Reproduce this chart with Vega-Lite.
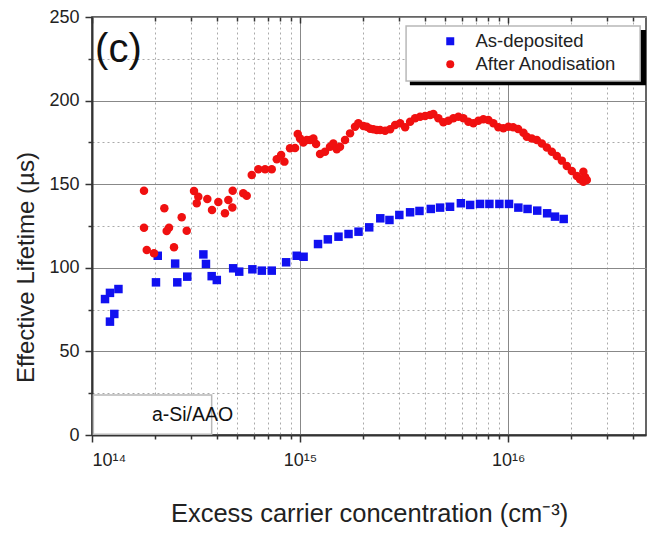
{
  "$schema": "https://vega.github.io/schema/vega-lite/v6.json",
  "autosize": "none",
  "padding": {"left": 92, "top": 17, "right": 1, "bottom": 99},
  "width": 554,
  "height": 418,
  "background": "white",
  "config": {
    "font": "Liberation Sans",
    "view": {"stroke": "#333", "strokeWidth": 1.5},
    "axis": {
      "labelFont": "Liberation Sans",
      "titleFont": "Liberation Sans",
      "labelColor": "#222",
      "titleColor": "#222",
      "titleFontWeight": "normal",
      "domainColor": "#333",
      "domainWidth": 2,
      "tickColor": "#333",
      "tickWidth": 1.5,
      "gridColor": "#999",
      "gridOpacity": 1
    }
  },
  "resolve": {"axis": {"x": "independent"}},
  "datasets": {
    "pts": [
      {"n": 1.155e14, "tau": 81.3, "series": "As-deposited"},
      {"n": 1.22e14, "tau": 85, "series": "As-deposited"},
      {"n": 1.34e14, "tau": 87.3, "series": "As-deposited"},
      {"n": 1.22e14, "tau": 67.8, "series": "As-deposited"},
      {"n": 1.28e14, "tau": 72.4, "series": "As-deposited"},
      {"n": 2.07e14, "tau": 107.2, "series": "As-deposited"},
      {"n": 2.03e14, "tau": 91.3, "series": "As-deposited"},
      {"n": 2.51e14, "tau": 102.5, "series": "As-deposited"},
      {"n": 2.57e14, "tau": 91.3, "series": "As-deposited"},
      {"n": 2.87e14, "tau": 94.7, "series": "As-deposited"},
      {"n": 3.43e14, "tau": 108, "series": "As-deposited"},
      {"n": 3.53e14, "tau": 102.3, "series": "As-deposited"},
      {"n": 3.76e14, "tau": 95, "series": "As-deposited"},
      {"n": 3.98e14, "tau": 92.7, "series": "As-deposited"},
      {"n": 4.77e14, "tau": 99.7, "series": "As-deposited"},
      {"n": 5.1e14, "tau": 97.7, "series": "As-deposited"},
      {"n": 5.9e14, "tau": 99.1, "series": "As-deposited"},
      {"n": 6.55e14, "tau": 98.3, "series": "As-deposited"},
      {"n": 7.31e14, "tau": 98.3, "series": "As-deposited"},
      {"n": 8.57e14, "tau": 103.3, "series": "As-deposited"},
      {"n": 9.64e14, "tau": 107.2, "series": "As-deposited"},
      {"n": 1.04e15, "tau": 106.6, "series": "As-deposited"},
      {"n": 1.22e15, "tau": 114.2, "series": "As-deposited"},
      {"n": 1.36e15, "tau": 117, "series": "As-deposited"},
      {"n": 1.53e15, "tau": 118.6, "series": "As-deposited"},
      {"n": 1.71e15, "tau": 120.2, "series": "As-deposited"},
      {"n": 1.91e15, "tau": 121.6, "series": "As-deposited"},
      {"n": 2.15e15, "tau": 124.2, "series": "As-deposited"},
      {"n": 2.43e15, "tau": 129.6, "series": "As-deposited"},
      {"n": 2.69e15, "tau": 128.6, "series": "As-deposited"},
      {"n": 3.0e15, "tau": 131.6, "series": "As-deposited"},
      {"n": 3.38e15, "tau": 133.2, "series": "As-deposited"},
      {"n": 3.75e15, "tau": 134, "series": "As-deposited"},
      {"n": 4.25e15, "tau": 135.2, "series": "As-deposited"},
      {"n": 4.71e15, "tau": 136, "series": "As-deposited"},
      {"n": 5.26e15, "tau": 136.5, "series": "As-deposited"},
      {"n": 5.93e15, "tau": 138.6, "series": "As-deposited"},
      {"n": 6.57e15, "tau": 137.6, "series": "As-deposited"},
      {"n": 7.33e15, "tau": 138.2, "series": "As-deposited"},
      {"n": 8.13e15, "tau": 138.2, "series": "As-deposited"},
      {"n": 9.08e15, "tau": 138.2, "series": "As-deposited"},
      {"n": 1.01e16, "tau": 138.2, "series": "As-deposited"},
      {"n": 1.12e16, "tau": 136, "series": "As-deposited"},
      {"n": 1.24e16, "tau": 135.2, "series": "As-deposited"},
      {"n": 1.38e16, "tau": 134.2, "series": "As-deposited"},
      {"n": 1.54e16, "tau": 132.6, "series": "As-deposited"},
      {"n": 1.68e16, "tau": 130.6, "series": "As-deposited"},
      {"n": 1.85e16, "tau": 129.2, "series": "As-deposited"},
      {"n": 1.778e14, "tau": 146.1, "series": "After Anodisation"},
      {"n": 1.778e14, "tau": 124, "series": "After Anodisation"},
      {"n": 1.833e14, "tau": 110.6, "series": "After Anodisation"},
      {"n": 1.986e14, "tau": 108.7, "series": "After Anodisation"},
      {"n": 2.227e14, "tau": 135.6, "series": "After Anodisation"},
      {"n": 2.286e14, "tau": 122, "series": "After Anodisation"},
      {"n": 2.345e14, "tau": 124, "series": "After Anodisation"},
      {"n": 2.478e14, "tau": 112.3, "series": "After Anodisation"},
      {"n": 2.699e14, "tau": 130.2, "series": "After Anodisation"},
      {"n": 2.853e14, "tau": 122.2, "series": "After Anodisation"},
      {"n": 3.093e14, "tau": 145.9, "series": "After Anodisation"},
      {"n": 3.187e14, "tau": 138.6, "series": "After Anodisation"},
      {"n": 3.243e14, "tau": 142.5, "series": "After Anodisation"},
      {"n": 3.583e14, "tau": 141.1, "series": "After Anodisation"},
      {"n": 3.774e14, "tau": 134.6, "series": "After Anodisation"},
      {"n": 4.047e14, "tau": 139.4, "series": "After Anodisation"},
      {"n": 4.356e14, "tau": 132.6, "series": "After Anodisation"},
      {"n": 4.521e14, "tau": 140.6, "series": "After Anodisation"},
      {"n": 4.728e14, "tau": 136, "series": "After Anodisation"},
      {"n": 4.745e14, "tau": 146.1, "series": "After Anodisation"},
      {"n": 5.333e14, "tau": 144.6, "series": "After Anodisation"},
      {"n": 5.541e14, "tau": 143.1, "series": "After Anodisation"},
      {"n": 5.858e14, "tau": 155.5, "series": "After Anodisation"},
      {"n": 6.303e14, "tau": 158.9, "series": "After Anodisation"},
      {"n": 6.79e14, "tau": 158.9, "series": "After Anodisation"},
      {"n": 7.31e14, "tau": 158.9, "series": "After Anodisation"},
      {"n": 7.73e14, "tau": 164.9, "series": "After Anodisation"},
      {"n": 8.11e14, "tau": 167.5, "series": "After Anodisation"},
      {"n": 8.41e14, "tau": 163.5, "series": "After Anodisation"},
      {"n": 8.95e14, "tau": 171.5, "series": "After Anodisation"},
      {"n": 9.46e14, "tau": 171.7, "series": "After Anodisation"},
      {"n": 9.75e14, "tau": 180, "series": "After Anodisation"},
      {"n": 1.0e15, "tau": 177.4, "series": "After Anodisation"},
      {"n": 1.037e15, "tau": 175, "series": "After Anodisation"},
      {"n": 1.077e15, "tau": 176.4, "series": "After Anodisation"},
      {"n": 1.117e15, "tau": 176.4, "series": "After Anodisation"},
      {"n": 1.159e15, "tau": 177.4, "series": "After Anodisation"},
      {"n": 1.194e15, "tau": 174, "series": "After Anodisation"},
      {"n": 1.248e15, "tau": 168.1, "series": "After Anodisation"},
      {"n": 1.318e15, "tau": 169.4, "series": "After Anodisation"},
      {"n": 1.393e15, "tau": 172.4, "series": "After Anodisation"},
      {"n": 1.445e15, "tau": 174.4, "series": "After Anodisation"},
      {"n": 1.501e15, "tau": 170.9, "series": "After Anodisation"},
      {"n": 1.556e15, "tau": 172.4, "series": "After Anodisation"},
      {"n": 1.645e15, "tau": 176.4, "series": "After Anodisation"},
      {"n": 1.739e15, "tau": 180.4, "series": "After Anodisation"},
      {"n": 1.837e15, "tau": 184.4, "series": "After Anodisation"},
      {"n": 1.906e15, "tau": 186.4, "series": "After Anodisation"},
      {"n": 2.015e15, "tau": 184.8, "series": "After Anodisation"},
      {"n": 2.092e15, "tau": 184.4, "series": "After Anodisation"},
      {"n": 2.171e15, "tau": 183.2, "series": "After Anodisation"},
      {"n": 2.25e15, "tau": 182.8, "series": "After Anodisation"},
      {"n": 2.337e15, "tau": 182.4, "series": "After Anodisation"},
      {"n": 2.425e15, "tau": 182.4, "series": "After Anodisation"},
      {"n": 2.563e15, "tau": 182, "series": "After Anodisation"},
      {"n": 2.71e15, "tau": 182.8, "series": "After Anodisation"},
      {"n": 2.864e15, "tau": 185.4, "series": "After Anodisation"},
      {"n": 3.027e15, "tau": 186.4, "series": "After Anodisation"},
      {"n": 3.199e15, "tau": 184, "series": "After Anodisation"},
      {"n": 3.381e15, "tau": 187.4, "series": "After Anodisation"},
      {"n": 3.573e15, "tau": 189.4, "series": "After Anodisation"},
      {"n": 3.776e15, "tau": 190.4, "series": "After Anodisation"},
      {"n": 3.991e15, "tau": 190.8, "series": "After Anodisation"},
      {"n": 4.218e15, "tau": 191.4, "series": "After Anodisation"},
      {"n": 4.374e15, "tau": 192, "series": "After Anodisation"},
      {"n": 4.623e15, "tau": 189.4, "series": "After Anodisation"},
      {"n": 4.886e15, "tau": 187, "series": "After Anodisation"},
      {"n": 5.164e15, "tau": 188, "series": "After Anodisation"},
      {"n": 5.458e15, "tau": 189.4, "series": "After Anodisation"},
      {"n": 5.768e15, "tau": 190.4, "series": "After Anodisation"},
      {"n": 6.096e15, "tau": 189.4, "series": "After Anodisation"},
      {"n": 6.443e15, "tau": 187.4, "series": "After Anodisation"},
      {"n": 6.81e15, "tau": 186.4, "series": "After Anodisation"},
      {"n": 7.197e15, "tau": 188, "series": "After Anodisation"},
      {"n": 7.607e15, "tau": 188.8, "series": "After Anodisation"},
      {"n": 8.039e15, "tau": 188.4, "series": "After Anodisation"},
      {"n": 8.497e15, "tau": 186.4, "series": "After Anodisation"},
      {"n": 8.98e15, "tau": 184, "series": "After Anodisation"},
      {"n": 9.49e15, "tau": 183.4, "series": "After Anodisation"},
      {"n": 1.003e16, "tau": 184.4, "series": "After Anodisation"},
      {"n": 1.057e16, "tau": 184, "series": "After Anodisation"},
      {"n": 1.117e16, "tau": 183, "series": "After Anodisation"},
      {"n": 1.185e16, "tau": 180.8, "series": "After Anodisation"},
      {"n": 1.23e16, "tau": 178.4, "series": "After Anodisation"},
      {"n": 1.30e16, "tau": 177.4, "series": "After Anodisation"},
      {"n": 1.374e16, "tau": 176.4, "series": "After Anodisation"},
      {"n": 1.452e16, "tau": 174.4, "series": "After Anodisation"},
      {"n": 1.535e16, "tau": 172, "series": "After Anodisation"},
      {"n": 1.622e16, "tau": 169.4, "series": "After Anodisation"},
      {"n": 1.714e16, "tau": 166.9, "series": "After Anodisation"},
      {"n": 1.812e16, "tau": 164.1, "series": "After Anodisation"},
      {"n": 1.915e16, "tau": 160.9, "series": "After Anodisation"},
      {"n": 2.024e16, "tau": 157.9, "series": "After Anodisation"},
      {"n": 2.139e16, "tau": 154.9, "series": "After Anodisation"},
      {"n": 2.218e16, "tau": 152.9, "series": "After Anodisation"},
      {"n": 2.30e16, "tau": 151.5, "series": "After Anodisation"},
      {"n": 2.30e16, "tau": 157.5, "series": "After Anodisation"},
      {"n": 2.345e16, "tau": 154.1, "series": "After Anodisation"},
      {"n": 2.389e16, "tau": 152.5, "series": "After Anodisation"}
    ],
    "boxes": [
      {"n": 1.015e14, "n2": 3.76e14, "tau": 0.5, "tau2": 23.9, "kind": "label"},
      {"n": 3.40e15, "n2": 4.56e16, "tau": 209.6, "tau2": 241.8, "kind": "shadow"},
      {"n": 3.233e15, "n2": 4.31e16, "tau": 211.7, "tau2": 244.6, "kind": "legend"}
    ],
    "notes": [
      {"n": 1.035e14, "tau": 230.5, "text": "(c)", "kind": "panel"},
      {"n": 1.94e14, "tau": 12, "text": "a-Si/AAO", "kind": "label"}
    ]
  },
  "layer": [
    {
      "data": {"name": "boxes"},
      "mark": {"type": "rect"},
      "encoding": {
        "x": {
          "field": "n", "type": "quantitative",
          "scale": {"type": "log", "domain": [1e14, 4.6e16], "nice": false},
          "axis": {
            "orient": "top",
            "title": null,
            "labels": false,
            "domain": false,
            "grid": false,
            "values": [1e14, 2e14, 3e14, 4e14, 5e14, 6e14, 7e14, 8e14, 9e14, 1e15, 2e15, 3e15, 4e15, 5e15, 6e15, 7e15, 8e15, 9e15, 1e16, 2e16, 3e16, 4e16],
            "tickSize": {"condition": {"test": "abs(log(datum.value)/LN10 - round(log(datum.value)/LN10)) < 0.001", "value": -6}, "value": -4}
          }
        },
        "x2": {"field": "n2"},
        "y": {"field": "tau", "type": "quantitative", "scale": {"domain": [0, 250], "nice": false}},
        "y2": {"field": "tau2"},
        "fill": {"condition": {"test": "datum.kind == 'shadow'", "value": "#000000"}, "value": "#ffffff"},
        "stroke": {"condition": {"test": "datum.kind == 'shadow'", "value": "#000000"}, "value": "#b8b8b8"},
        "strokeWidth": {"value": 1.5}
      }
    },
    {
      "data": {"name": "pts"},
      "mark": {"type": "point", "filled": true, "opacity": 1, "size": 72},
      "encoding": {
        "x": {
          "field": "n", "type": "quantitative",
          "scale": {"type": "log", "domain": [1e14, 4.6e16], "nice": false},
          "axis": {
            "orient": "bottom",
            "title": "Excess carrier concentration (cm⁻³)",
            "titleFontSize": 25.5,
            "titlePadding": 32,
            "labelFontSize": 18,
            "labelPadding": 9,
            "values": [1e14, 2e14, 3e14, 4e14, 5e14, 6e14, 7e14, 8e14, 9e14, 1e15, 2e15, 3e15, 4e15, 5e15, 6e15, 7e15, 8e15, 9e15, 1e16, 2e16, 3e16, 4e16],
            "labelExpr": "abs(log(datum.value)/LN10 - round(log(datum.value)/LN10)) < 0.001 ? (round(log(datum.value)/LN10) == 14 ? '10¹⁴' : (round(log(datum.value)/LN10) == 15 ? '10¹⁵' : '10¹⁶')) : ''",
            "labelOverlap": false,
            "grid": true,
            "gridDash": {"condition": {"test": "abs(log(datum.value)/LN10 - round(log(datum.value)/LN10)) < 0.001", "value": []}, "value": [2, 3]},
            "gridColor": {"condition": {"test": "abs(log(datum.value)/LN10 - round(log(datum.value)/LN10)) < 0.001", "value": "#888"}, "value": "#aaa"},
            "tickSize": {"condition": {"test": "abs(log(datum.value)/LN10 - round(log(datum.value)/LN10)) < 0.001", "value": 7}, "value": 4}
          }
        },
        "y": {
          "field": "tau", "type": "quantitative",
          "scale": {"domain": [0, 250], "nice": false},
          "axis": {
            "title": "Effective Lifetime (µs)",
            "titleFontSize": 24,
            "titlePadding": 10,
            "titleY": 250,
            "labelFontSize": 18,
            "labelPadding": 6,
            "values": [0, 25, 50, 75, 100, 125, 150, 175, 200, 225, 250],
            "labelExpr": "datum.value % 50 == 0 ? datum.label : ''",
            "grid": true,
            "gridDash": {"condition": {"test": "datum.value % 50 == 0", "value": []}, "value": [2, 3]},
            "gridColor": {"condition": {"test": "datum.value % 50 == 0", "value": "#888"}, "value": "#aaa"},
            "tickSize": {"condition": {"test": "datum.value % 50 == 0", "value": 7}, "value": 4}
          }
        },
        "color": {
          "field": "series", "type": "nominal",
          "scale": {"domain": ["As-deposited", "After Anodisation"], "range": ["#1010f0", "#f01010"]},
          "legend": {
            "title": null,
            "orient": "none",
            "legendX": 349,
            "legendY": 15,
            "padding": 0,
            "symbolOffset": 0,
            "labelOffset": 16,
            "rowPadding": 4,
            "labelFontSize": 18.5,
            "labelFont": "Liberation Sans",
            "labelColor": "#222",
            "labelLimit": 300,
            "symbolSize": 64
          }
        },
        "shape": {
          "field": "series", "type": "nominal",
          "scale": {"domain": ["As-deposited", "After Anodisation"], "range": ["square", "circle"]},
          "legend": null
        }
      }
    },
    {
      "data": {"name": "notes"},
      "mark": {"type": "text", "align": "left", "baseline": "middle", "font": "Liberation Sans", "color": "#111"},
      "encoding": {
        "x": {"field": "n", "type": "quantitative", "axis": null},
        "y": {"field": "tau", "type": "quantitative"},
        "text": {"field": "text"},
        "align": {"condition": {"test": "datum.kind == 'label'", "value": "center"}, "value": "left"},
        "size": {"condition": {"test": "datum.kind == 'label'", "value": 19.5}, "value": 40}
      }
    }
  ]
}
